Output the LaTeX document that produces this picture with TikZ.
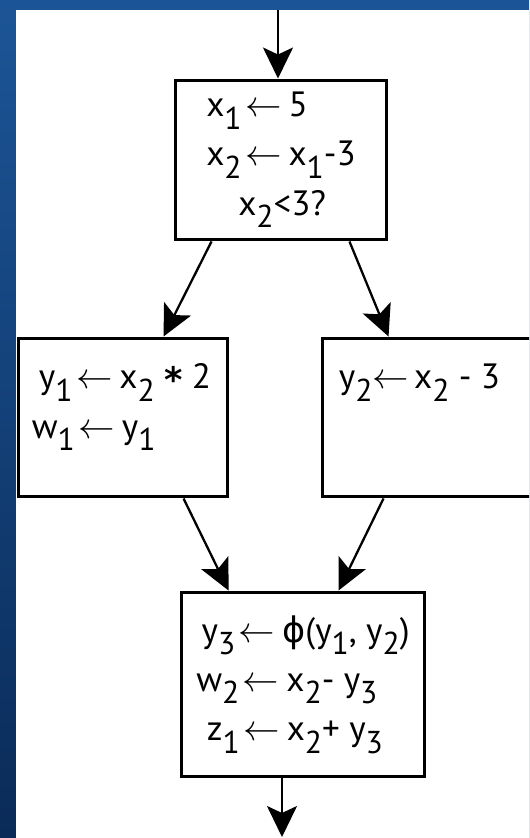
\documentclass[tikz,border=0pt]{standalone}
\usepackage{fontspec}
\setmainfont{PT Sans}
\newfontfamily\greekfont{DejaVu Sans}
\usetikzlibrary{arrows.meta,positioning}
\definecolor{slidetop}{HTML}{1C5597}
\definecolor{slidebot}{HTML}{0A2B58}
\newcommand{\ix}[1]{\raisebox{-0.36em}{\fontsize{18}{18}\selectfont #1}}
\newcommand{\asg}{\kern2pt$\leftarrow$\kern4pt}
\newcommand{\mulstar}{\raisebox{-2pt}{\greekfont\bfseries *}}
\tikzset{
  block/.style={draw, line width=1.7pt, inner sep=0pt, font=\fontsize{20}{28}\selectfont},
  code/.style={inner sep=0pt, align=left, font=\fontsize{20}{28}\selectfont},
  flow/.style={->, line width=1.3pt}
}
\begin{document}
\begin{tikzpicture}[x=0.02cm, y=-0.02cm, >={Stealth[length=0.62cm, width=0.6cm, inset=0.14cm]}]
  \useasboundingbox (0,0) rectangle (529,838);
  \clip (0,0) rectangle (529,838);
  \shade[top color=slidetop, bottom color=slidebot] (0,0) rectangle (529,838);
  \fill[white] (16,10) rectangle (529,838);

  \node[block, minimum width=4.24cm, minimum height=3.2cm, align=left] (cond) at (281,160)
    {x\ix{1}\asg 5\\ x\ix{2}\asg x\ix{1}-3\\ \hspace*{0.64cm}x\ix{2}<3?};
  \node[block, minimum width=4.2cm, minimum height=3.18cm] (left) at (123,417.5) {};
  \node[block, minimum width=4.4cm, minimum height=3.18cm] (right) at (432,417.5) {};
  \node[block, minimum width=4.88cm, minimum height=3.7cm, align=left] (merge) at (303,684.5)
    {\hspace*{3pt}y\ix{3}\asg {\greekfont ϕ}(y\ix{1}, y\ix{2})\\
     w\ix{2}\asg x\ix{2}- y\ix{3}\\
     \hspace*{6pt}z\ix{1}\asg x\ix{2}+ y\ix{3}};
  \node[code, anchor=north west] (left text) at ([shift={(15,27)}]left.north west)
    {\hspace*{4pt}y\ix{1}\asg x\ix{2} \mulstar{} 2\\ w\ix{1}\asg y\ix{1}};
  \node[code, anchor=north west] (right text) at ([shift={(18,27)}]right.north west)
    {y\ix{2}$\leftarrow$\kern3pt x\ix{2} - 3};

  \coordinate (entry) at (278,10);
  \coordinate (exit) at (282,837);
  \draw[flow] (entry) -- (entry |- cond.north);
  \draw[flow] ([shift={(38,0)}]cond.south west) -- ([shift={(147,0)}]left.north west);
  \draw[flow] ([shift={(-39,0)}]cond.south east) -- ([shift={(68,0)}]right.north west);
  \draw[flow] ([shift={(167,0)}]left.south west) -- ([shift={(49,0)}]merge.north west);
  \draw[flow] ([shift={(63,0)}]right.south west) -- ([shift={(159,0)}]merge.north west);
  \draw[flow] (exit |- merge.south) -- (exit);
\end{tikzpicture}
\end{document}
